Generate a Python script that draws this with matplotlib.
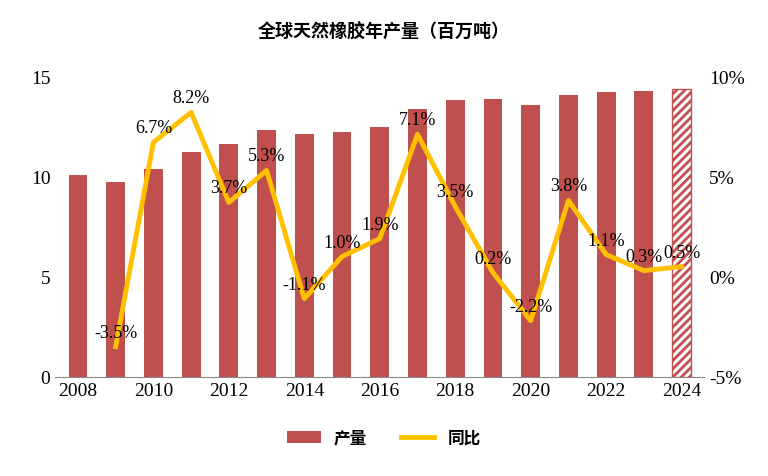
import matplotlib
matplotlib.use("Agg")
import matplotlib.pyplot as plt
import numpy as np

plt.rcParams['font.family'] = ['Liberation Serif', 'Noto Sans CJK SC']
plt.rcParams['hatch.linewidth'] = 2.0

years = list(range(2008, 2025))
output = [10.05, 9.7, 10.35, 11.2, 11.6, 12.3, 12.1, 12.2, 12.45, 13.35, 13.8, 13.85, 13.55, 14.05, 14.2, 14.25, 14.35]
yoy_years = list(range(2009, 2025))
yoy = [-3.5, 6.7, 8.2, 3.7, 5.3, -1.1, 1.0, 1.9, 7.1, 3.5, 0.2, -2.2, 3.8, 1.1, 0.3, 0.5]

fig = plt.figure(figsize=(7.68, 4.77), dpi=100)
ax = fig.add_axes([0.072, 0.208, 0.845, 0.63])
x = np.arange(len(years))
bc = '#C0504D'
bars = ax.bar(x[:-1], output[:-1], width=0.5, color=bc, label='产量')
ax.bar(x[-1], output[-1], width=0.5, color='white', edgecolor=bc, hatch='////', linewidth=1.0)
ax.set_ylim(0, 15)
ax.set_yticks([0, 5, 10, 15])
ax.set_xlim(-0.6, len(years) - 0.4)
ax.set_xticks(x[::2])
ax.set_xticklabels([str(y) for y in years[::2]])
for s in ['top', 'right', 'left']:
    ax.spines[s].set_visible(False)
ax.spines['bottom'].set_color('#888888')
ax.tick_params(axis='y', length=0, labelsize=14)
ax.tick_params(axis='x', length=0, labelsize=14)

ax2 = ax.twinx()
xi = [years.index(y) for y in yoy_years]
line, = ax2.plot(xi, yoy, color='#FFC000', linewidth=3.5, label='同比')
for xx, v in zip(xi, yoy):
    ax2.text(xx, v + 0.3, f'{v:.1f}%', ha='center', va='bottom', fontsize=13)
ax2.set_ylim(-5, 10)
ax2.set_yticks([-5, 0, 5, 10])
ax2.set_yticklabels(['-5%', '0%', '5%', '10%'])
ax2.tick_params(axis='y', length=0, labelsize=14)
for s in ['top', 'right', 'left', 'bottom']:
    ax2.spines[s].set_visible(False)

fig.suptitle('全球天然橡胶年产量（百万吨）', y=0.95, fontsize=13, fontweight='bold')
fig.legend([bars, line], ['产量', '同比'], loc='lower center', bbox_to_anchor=(0.5, 0.03),
           ncol=2, frameon=False, prop={'weight': 'bold', 'size': 12})
fig.savefig('out.png', dpi=100)
